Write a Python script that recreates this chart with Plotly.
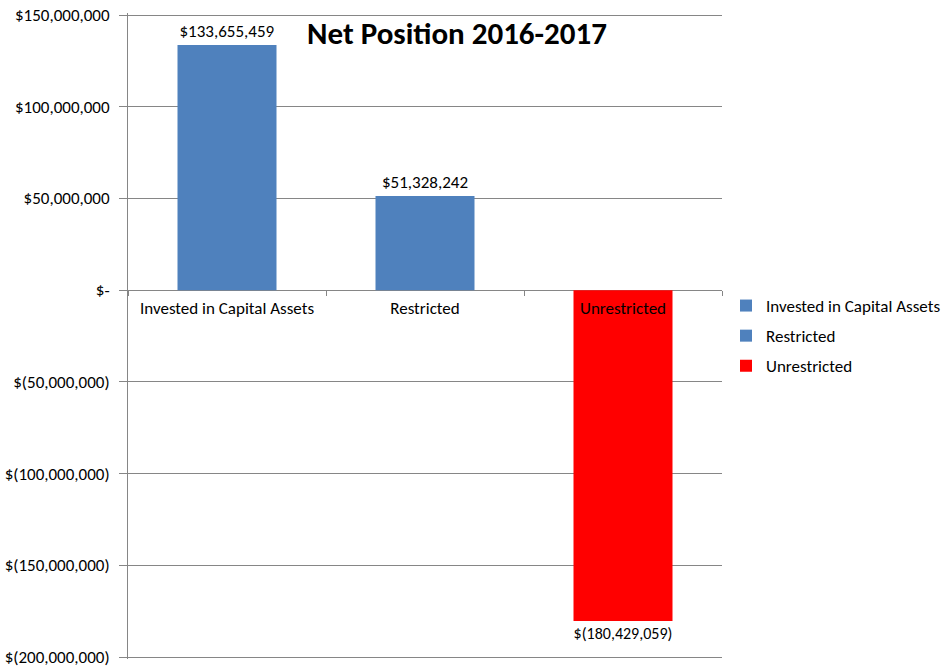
import plotly.graph_objects as go

categories = ["Invested in Capital Assets", "Restricted", "Unrestricted"]
values = [133655459, 51328242, -180429059]
colors = ["#4F81BD", "#4F81BD", "#FF0000"]
ytick_vals = [150000000, 100000000, 50000000, 0, -50000000, -100000000, -150000000, -200000000]


def money(v):
    if v == 0:
        return "$-"
    if v < 0:
        return "$({:,})".format(-v)
    return "${:,}".format(v)


ytick_text = [money(v) for v in ytick_vals]
FONT = "Carlito, Lato, sans-serif"
GRAY = "#868686"
FS = 17

fig = go.Figure()
for cat, val, col in zip(categories, values, colors):
    fig.add_trace(go.Bar(
        x=[cat], y=[val], name=cat, legendgroup=cat,
        marker=dict(color=col, line=dict(width=0)),
        width=0.5,
        text=[money(val)], textposition="outside",
        textfont=dict(family=FONT, size=FS, color="#000000"),
        cliponaxis=False,
    ))

ymin, ymax = -200000000, 150000000
pad = 1090000  # about 2px so edge gridlines are not clipped
fig.update_layout(
    width=943, height=667,
    margin=dict(l=128, r=221, t=13, b=8, autoexpand=False),
    paper_bgcolor="white", plot_bgcolor="white",
    barmode="overlay",
    font=dict(family=FONT, size=FS, color="#000000"),
    title=dict(text="<b>Net Position 2016-2017</b>", x=(457 - 128) / 594, xref="paper",
               xanchor="center", y=1 - 33 / 667, yanchor="middle",
               font=dict(family=FONT, size=31, color="#000000")),
    showlegend=True,
    legend=dict(x=(726 - 128) / 594, xanchor="left", y=0.5, yanchor="middle",
                font=dict(family=FONT, size=FS), tracegroupgap=5,
                itemwidth=30),
    xaxis=dict(
        categoryorder="array", categoryarray=categories,
        anchor="free", position=(0 - (ymin - pad)) / (ymax - ymin + 2 * pad),
        showline=False,
        ticks="outside", tickson="boundaries", ticklen=5, tickcolor=GRAY,
        showgrid=False, zeroline=False,
        tickfont=dict(family=FONT, size=FS, color="#000000"),
        automargin=False, fixedrange=True, ticklabelstandoff=6,
    ),
    yaxis=dict(
        range=[ymin - pad, ymax + pad], tickvals=ytick_vals, ticktext=ytick_text,
        showline=True, linecolor=GRAY, linewidth=1,
        ticks="outside", ticklen=8, tickcolor=GRAY,
        showgrid=True, gridcolor=GRAY, gridwidth=1,
        zeroline=False, automargin=False, ticklabelstandoff=6,
        ticklabeloverflow="allow",
        tickfont=dict(family=FONT, size=FS, color="#000000"),
    ),
)

fig.write_html(
    "out.html",
    config={"displayModeBar": False},
    post_script="document.body.style.margin='0';document.body.style.overflow='hidden';",
)
